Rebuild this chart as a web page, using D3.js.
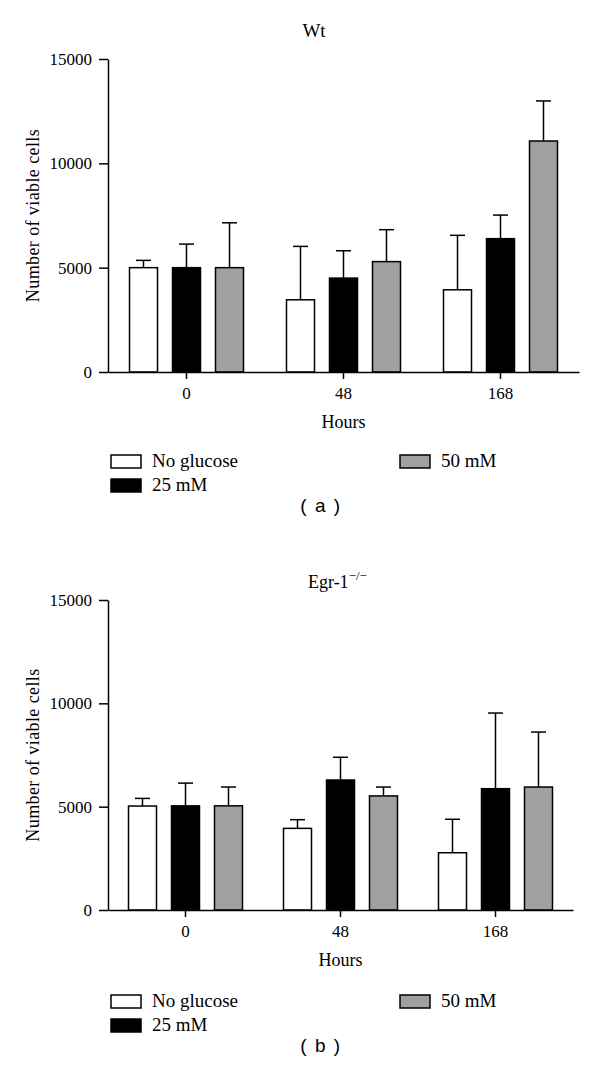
<!DOCTYPE html>
<html>
<head>
<meta charset="utf-8">
<script src="https://cdn.jsdelivr.net/npm/d3@7"></script>
<style>
  html, body { margin: 0; padding: 0; background: #fff; }
  svg { display: block; }
  text { font-family: "Liberation Serif", "DejaVu Serif", serif; fill: #000; }
  .cap { font-family: "Liberation Sans", Arial, sans-serif; }
</style>
</head>
<body>
<svg id="chart" width="600" height="1091"></svg>
<script>
// ---------- data ----------
const hours = ["0", "48", "168"];
const seriesNames = ["No glucose", "25 mM", "50 mM"];
const seriesFill = ["#ffffff", "#000000", "#a0a0a0"];
const yTicks = [0, 5000, 10000, 15000];

// Wt panel: means and error (SD, upper bar)
const wtNoGlucose = [5000, 3460, 3940];
const wtNoGlucoseErr = [350, 2560, 2610];
const wt25mM = [5000, 4500, 6390];
const wt25mMErr = [1130, 1310, 1130];
const wt50mM = [5000, 5290, 11070];
const wt50mMErr = [2150, 1530, 1920];

// Egr-1 -/- panel
const egrNoGlucose = [5030, 3950, 2770];
const egrNoGlucoseErr = [370, 420, 1620];
const egr25mM = [5040, 6290, 5870];
const egr25mMErr = [1100, 1100, 3660];
const egr50mM = [5040, 5520, 5950];
const egr50mMErr = [910, 430, 2660];

// ---------- drawing ----------
const svg = d3.select("#chart");

function buildRows(means, errs) {
  const rows = [];
  hours.forEach((h, gi) => {
    seriesNames.forEach((s, si) => {
      rows.push({ hour: h, series: s, si: si, value: means[si][gi], err: errs[si][gi] });
    });
  });
  return rows;
}

function drawPanel(cfg) {
  const g = svg.append("g");
  const x0 = d3.scaleBand().domain(hours).range([cfg.left, cfg.right]).padding(0);
  const half = 64.5;
  const x1 = d3.scaleBand().domain(seriesNames).range([-half, half])
    .paddingInner(15 / 43).paddingOuter(7.5 / 43);
  const y = d3.scaleLinear().domain([0, 15000]).range([cfg.bottom, cfg.top]);

  const rows = buildRows(cfg.means, cfg.errs);

  // error bars (drawn first, bars cover lower part)
  const eb = g.append("g").attr("stroke", "#000").attr("stroke-width", 1.5);
  rows.forEach(d => {
    const cx = x0(d.hour) + x0.bandwidth() / 2 + x1(d.series) + x1.bandwidth() / 2;
    eb.append("line").attr("x1", cx).attr("x2", cx)
      .attr("y1", y(d.value)).attr("y2", y(d.value + d.err));
    eb.append("line").attr("x1", cx - 7.5).attr("x2", cx + 7.5)
      .attr("y1", y(d.value + d.err)).attr("y2", y(d.value + d.err));
  });

  // bars
  g.append("g").selectAll("rect").data(rows).join("rect")
    .attr("x", d => x0(d.hour) + x0.bandwidth() / 2 + x1(d.series))
    .attr("y", d => y(d.value))
    .attr("width", x1.bandwidth())
    .attr("height", d => y(0) - y(d.value))
    .attr("fill", d => seriesFill[d.si])
    .attr("stroke", "#000")
    .attr("stroke-width", 1.5);

  // y axis
  const ya = g.append("g").attr("transform", `translate(${cfg.left},0)`)
    .call(d3.axisLeft(y).tickValues(yTicks).tickFormat(d3.format("d"))
      .tickSize(9).tickSizeOuter(0).tickPadding(7));
  ya.attr("font-family", null);
  ya.select(".domain").attr("stroke-width", 1.5);
  ya.selectAll(".tick line").attr("stroke-width", 1.5);
  ya.selectAll(".tick text").style("font-size", "17px")
    .style("font-family", '"Liberation Serif", serif');

  // x axis
  const xa = g.append("g").attr("transform", `translate(0,${cfg.bottom})`)
    .call(d3.axisBottom(x0).tickSize(7).tickSizeOuter(0).tickPadding(8));
  xa.attr("font-family", null);
  xa.select(".domain").attr("stroke-width", 1.5);
  xa.selectAll(".tick line").attr("stroke-width", 1.5);
  xa.selectAll(".tick text").style("font-size", "17px")
    .style("font-family", '"Liberation Serif", serif');

  // axis titles
  g.append("text")
    .attr("transform", `translate(${cfg.left - 69},${(cfg.top + cfg.bottom) / 2}) rotate(-90)`)
    .attr("text-anchor", "middle")
    .style("font-size", "18px")
    .style("letter-spacing", "0.4px")
    .text("Number of viable cells");

  g.append("text")
    .attr("x", (cfg.left + cfg.right) / 2)
    .attr("y", cfg.bottom + 56)
    .attr("text-anchor", "middle")
    .style("font-size", "18px")
    .text("Hours");

  // title
  const t = g.append("text")
    .attr("x", cfg.titleX).attr("y", cfg.titleY)
    .attr("text-anchor", cfg.titleAnchor)
    .style("font-size", cfg.titleSize)
    .text(cfg.title);
  if (cfg.titleSup) {
    t.append("tspan").attr("dy", -8).style("font-size", "13px").text(cfg.titleSup);
  }

  // legend
  const lg = g.append("g");
  const legendPos = [
    { bx: 111, by: cfg.legendY },
    { bx: 111, by: cfg.legendY + 24 },
    { bx: 400, by: cfg.legendY }
  ];
  seriesNames.forEach((s, i) => {
    const p = legendPos[i];
    lg.append("rect").attr("x", p.bx).attr("y", p.by).attr("width", 30).attr("height", 13)
      .attr("fill", seriesFill[i]).attr("stroke", "#000").attr("stroke-width", 1.5);
    lg.append("text").attr("x", p.bx + 41).attr("y", p.by + 12)
      .style("font-size", "19px").text(s);
  });

  // panel caption
  g.append("text").attr("class", "cap")
    .attr("x", 321).attr("y", cfg.capY)
    .attr("text-anchor", "middle")
    .style("font-size", "19px")
    .style("letter-spacing", "1.5px")
    .attr("xml:space", "preserve")
    .text(cfg.caption);
}

drawPanel({
  left: 108, right: 579, top: 59, bottom: 372,
  means: [wtNoGlucose, wt25mM, wt50mM],
  errs: [wtNoGlucoseErr, wt25mMErr, wt50mMErr],
  title: "Wt", titleSup: null, titleX: 314, titleY: 37, titleAnchor: "middle", titleSize: "19px",
  legendY: 455, capY: 512, caption: "( a )"
});

drawPanel({
  left: 108, right: 573, top: 600, bottom: 910,
  means: [egrNoGlucose, egr25mM, egr50mM],
  errs: [egrNoGlucoseErr, egr25mMErr, egr50mMErr],
  title: "Egr-1", titleSup: "\u2212/\u2212", titleX: 308, titleY: 588, titleAnchor: "start", titleSize: "18px",
  legendY: 995, capY: 1052, caption: "( b )"
});
</script>
</body>
</html>
